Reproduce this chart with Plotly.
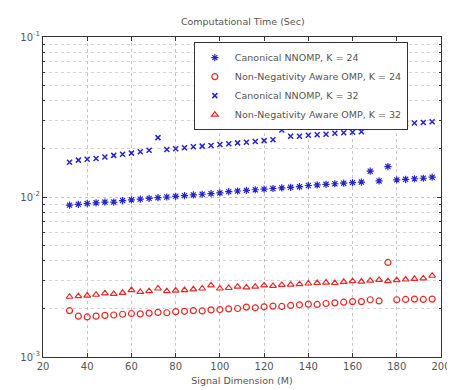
import plotly.graph_objects as go

signal_dim = list(range(32, 200, 4))

nnomp_k24 = [0.0089, 0.0090, 0.0091, 0.0092, 0.0093, 0.0093, 0.0095, 0.0096, 0.0097, 0.0098,
             0.0099, 0.0100, 0.0101, 0.0102, 0.0103, 0.0104, 0.0105, 0.0106, 0.0108, 0.0109,
             0.0110, 0.0111, 0.0112, 0.0113, 0.0114, 0.0115, 0.0116, 0.0118, 0.0119, 0.0120,
             0.0121, 0.0122, 0.0123, 0.0124, 0.0145, 0.0126, 0.0155, 0.0128, 0.0129, 0.0130,
             0.0131, 0.0133]

nnaware_k24 = [0.00195, 0.00180, 0.00178, 0.00180, 0.00182, 0.00183, 0.00185, 0.00187, 0.00186, 0.00188,
               0.00190, 0.00189, 0.00192, 0.00193, 0.00195, 0.00194, 0.00197, 0.00198, 0.00200, 0.00201,
               0.00205, 0.00203, 0.00206, 0.00208, 0.00207, 0.00210, 0.00212, 0.00214, 0.00213, 0.00216,
               0.00218, 0.00220, 0.00222, 0.00222, 0.00228, 0.00224, 0.00390, 0.00228, 0.00229, 0.00230,
               0.00229, 0.00230]

nnomp_k32 = [0.0165, 0.0170, 0.0172, 0.0174, 0.0178, 0.0182, 0.0185, 0.0188, 0.0192, 0.0196,
             0.0235, 0.0198, 0.0200, 0.0203, 0.0206, 0.0208, 0.0210, 0.0213, 0.0215, 0.0218,
             0.0220, 0.0222, 0.0225, 0.0228, 0.0262, 0.0240, 0.0240, 0.0243, 0.0245, 0.0247,
             0.0250, 0.0252, 0.0254, 0.0256, 0.0290, 0.0278, 0.0300, 0.0285, 0.0287, 0.0290,
             0.0292, 0.0295]

nnaware_k32 = [0.00238, 0.00240, 0.00242, 0.00245, 0.00250, 0.00248, 0.00252, 0.00262, 0.00255, 0.00258,
               0.00268, 0.00258, 0.00260, 0.00262, 0.00265, 0.00268, 0.00280, 0.00268, 0.00270, 0.00275,
               0.00272, 0.00275, 0.00280, 0.00278, 0.00282, 0.00283, 0.00285, 0.00288, 0.00290, 0.00292,
               0.00290, 0.00295, 0.00298, 0.00296, 0.00300, 0.00303, 0.00298, 0.00302, 0.00305, 0.00308,
               0.00310, 0.00322]

x_ticks = [20, 40, 60, 80, 100, 120, 140, 160, 180, 200]
y_ticks = [0.001, 0.01, 0.1]
y_ticktext = ["10<sup>-3</sup>", "10<sup>-2</sup>", "10<sup>-1</sup>"]
y_minor = [m * d for d in (0.001, 0.01) for m in range(2, 10)]

BLUE = "#2626c8"
RED = "#e82828"
TXT = "#555555"
FONT = "DejaVu Sans, Liberation Sans, sans-serif"

fig = go.Figure()
fig.add_trace(go.Scatter(x=signal_dim, y=nnomp_k24, mode="markers", name="Canonical NNOMP, K = 24",
                         marker=dict(symbol="asterisk-open", size=6, color=BLUE, line=dict(width=1.2, color=BLUE))))
fig.add_trace(go.Scatter(x=signal_dim, y=nnaware_k24, mode="markers", name="Non-Negativity Aware OMP, K = 24",
                         marker=dict(symbol="circle-open", size=6, color=RED, line=dict(width=1.2, color=RED))))
fig.add_trace(go.Scatter(x=signal_dim, y=nnomp_k32, mode="markers", name="Canonical NNOMP, K = 32",
                         marker=dict(symbol="x-thin-open", size=5, color=BLUE, line=dict(width=1.5, color=BLUE))))
fig.add_trace(go.Scatter(x=signal_dim, y=nnaware_k32, mode="markers", name="Non-Negativity Aware OMP, K = 32",
                         marker=dict(symbol="triangle-up-open", size=6, color=RED, line=dict(width=1.2, color=RED))))

grid_col = "#c4c4c4"
minor_col = "#d6d6d6"
fig.update_layout(
    width=455, height=390,
    margin=dict(l=30, r=16, t=29, b=41),
    paper_bgcolor="white", plot_bgcolor="white",
    font=dict(family=FONT, size=9, color=TXT),
    title=dict(text="Computational Time (Sec)", x=0.516, xanchor="center", y=0.964, yanchor="middle",
               font=dict(family=FONT, size=9.5, color=TXT)),
    showlegend=True,
    legend=dict(x=0.379, y=0.984, xanchor="left", yanchor="top", bgcolor="white",
                bordercolor="#333", borderwidth=1, font=dict(family=FONT, size=9.5, color=TXT),
                tracegroupgap=0),
    xaxis=dict(range=[20, 200], tickvals=x_ticks, showline=True, linecolor="#333", linewidth=1,
               mirror="ticks", ticks="inside", ticklen=4, tickcolor="#333",
               tickfont=dict(family=FONT, size=10, color=TXT),
               showgrid=True, gridcolor=grid_col, griddash="dot", gridwidth=1, zeroline=False,
               title=dict(text="Signal Dimension (M)", standoff=6, font=dict(family=FONT, size=9.5, color=TXT))),
    yaxis=dict(type="log", range=[-3, -1], tickvals=y_ticks, ticktext=y_ticktext,
               tickfont=dict(family=FONT, size=10, color=TXT),
               showline=True, linecolor="#333", linewidth=1, mirror="ticks", ticks="inside",
               ticklen=4, tickcolor="#333", showgrid=True, gridcolor=grid_col, griddash="dot",
               gridwidth=1, zeroline=False,
               minor=dict(tickvals=y_minor, ticks="inside", ticklen=2, tickcolor="#333",
                          showgrid=True, gridcolor=minor_col, griddash="dot", gridwidth=1)),
)

fig.write_html("out.html")
